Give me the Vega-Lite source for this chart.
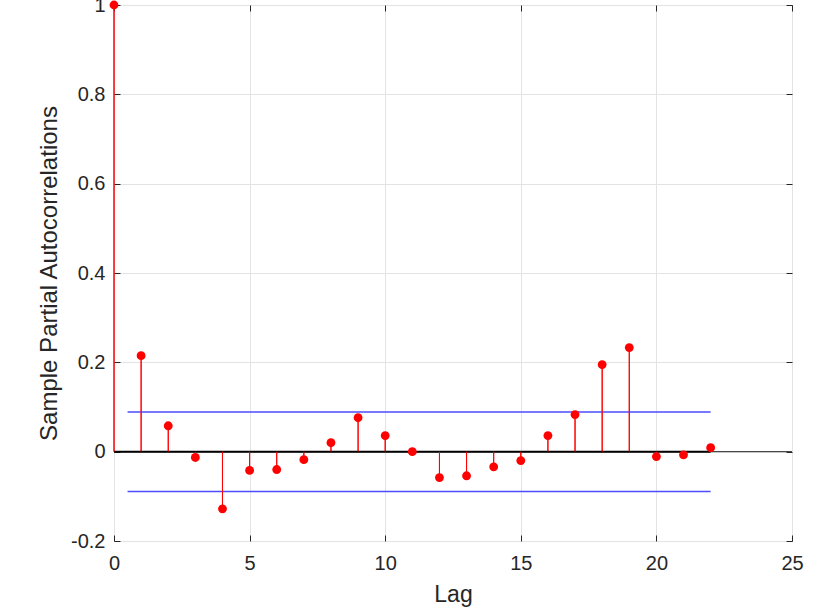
{
  "$schema": "https://vega.github.io/schema/vega-lite/v6.json",
  "width": 678,
  "height": 536,
  "autosize": "none",
  "padding": {"left": 114, "top": 5, "right": 24, "bottom": 71},
  "background": "white",
  "config": {
    "view": {"stroke": "#262626", "strokeWidth": 1},
    "font": "Liberation Sans",
    "axis": {
      "domain": false,
      "tickColor": "#262626",
      "tickSize": -6,
      "labelColor": "#262626",
      "labelFontSize": 20,
      "labelFont": "Liberation Sans",
      "labelFlush": false,
      "labelOverlap": false,
      "titleFont": "Liberation Sans",
      "titleFontWeight": "normal",
      "titleColor": "#262626",
      "titleFontSize": 23,
      "gridColor": "#e3e3e3"
    }
  },
  "datasets": {
    "acf": [
      {"lag": 0, "value": 1.0},
      {"lag": 1, "value": 0.215},
      {"lag": 2, "value": 0.058},
      {"lag": 3, "value": -0.013},
      {"lag": 4, "value": -0.128},
      {"lag": 5, "value": -0.042},
      {"lag": 6, "value": -0.04},
      {"lag": 7, "value": -0.018},
      {"lag": 8, "value": 0.02},
      {"lag": 9, "value": 0.076},
      {"lag": 10, "value": 0.036},
      {"lag": 11, "value": 0.0},
      {"lag": 12, "value": -0.058},
      {"lag": 13, "value": -0.054},
      {"lag": 14, "value": -0.034},
      {"lag": 15, "value": -0.02},
      {"lag": 16, "value": 0.036},
      {"lag": 17, "value": 0.083},
      {"lag": 18, "value": 0.195},
      {"lag": 19, "value": 0.233},
      {"lag": 20, "value": -0.011},
      {"lag": 21, "value": -0.007},
      {"lag": 22, "value": 0.009}
    ],
    "bounds": [
      {"start": 0.5, "end": 22, "bound": 0.089},
      {"start": 0.5, "end": 22, "bound": -0.089}
    ]
  },
  "resolve": {"axis": {"x": "independent", "y": "independent"}},
  "layer": [
    {
      "data": {"name": "acf"},
      "mark": {"type": "rule", "color": "#ff0000", "strokeWidth": 1},
      "encoding": {
        "x": {
          "field": "lag", "type": "quantitative",
          "scale": {"domain": [0, 25], "nice": false, "zero": false},
          "axis": {"title": "Lag", "orient": "bottom", "grid": true, "values": [0, 5, 10, 15, 20, 25], "labelPadding": 18, "titlePadding": 10}
        },
        "y": {
          "field": "value", "type": "quantitative",
          "scale": {"domain": [-0.2, 1], "nice": false, "zero": false},
          "axis": {"title": "Sample Partial Autocorrelations", "titleFontSize": 24, "orient": "left", "grid": true, "values": [-0.2, 0, 0.2, 0.4, 0.6, 0.8, 1], "labelExpr": "toString(datum.value)", "labelPadding": 15, "titlePadding": 9}
        },
        "y2": {"datum": 0}
      }
    },
    {
      "data": {"values": [{}]},
      "mark": {"type": "rule", "color": "#262626", "strokeWidth": 1},
      "encoding": {"y": {"datum": 0, "type": "quantitative", "scale": {"domain": [-0.2, 1], "nice": false, "zero": false}, "axis": null}}
    },
    {
      "data": {"values": [{}]},
      "mark": {"type": "rule", "color": "#000000", "strokeWidth": 2},
      "encoding": {
        "x": {"datum": 0, "type": "quantitative", "scale": {"domain": [0, 25], "nice": false, "zero": false}, "axis": null},
        "x2": {"datum": 22},
        "y": {"datum": 0, "type": "quantitative", "scale": {"domain": [-0.2, 1], "nice": false, "zero": false}, "axis": null}
      }
    },
    {
      "data": {"name": "bounds"},
      "mark": {"type": "rule", "color": "#4d4dff", "strokeWidth": 1.5},
      "encoding": {
        "x": {"field": "start", "type": "quantitative", "scale": {"domain": [0, 25], "nice": false, "zero": false}, "axis": null},
        "x2": {"field": "end"},
        "y": {"field": "bound", "type": "quantitative", "scale": {"domain": [-0.2, 1], "nice": false, "zero": false}, "axis": null}
      }
    },
    {
      "data": {"name": "acf"},
      "mark": {"type": "rule", "color": "#ff0000", "strokeWidth": 1},
      "encoding": {
        "x": {"field": "lag", "type": "quantitative", "scale": {"domain": [0, 25], "nice": false, "zero": false}, "axis": null},
        "y": {"field": "value", "type": "quantitative", "scale": {"domain": [-0.2, 1], "nice": false, "zero": false}, "axis": null},
        "y2": {"datum": 0}
      }
    },
    {
      "data": {"name": "acf"},
      "mark": {"type": "circle", "color": "#ff0000", "opacity": 1, "size": 78},
      "encoding": {
        "x": {
          "field": "lag", "type": "quantitative",
          "scale": {"domain": [0, 25], "nice": false, "zero": false},
          "axis": {"orient": "top", "title": null, "labels": false, "grid": false, "tickSize": 6, "offset": -6, "values": [0, 5, 10, 15, 20, 25]}
        },
        "y": {
          "field": "value", "type": "quantitative",
          "scale": {"domain": [-0.2, 1], "nice": false, "zero": false},
          "axis": {"orient": "right", "title": null, "labels": false, "grid": false, "tickSize": 6, "offset": -6, "values": [-0.2, 0, 0.2, 0.4, 0.6, 0.8, 1]}
        }
      }
    }
  ]
}
